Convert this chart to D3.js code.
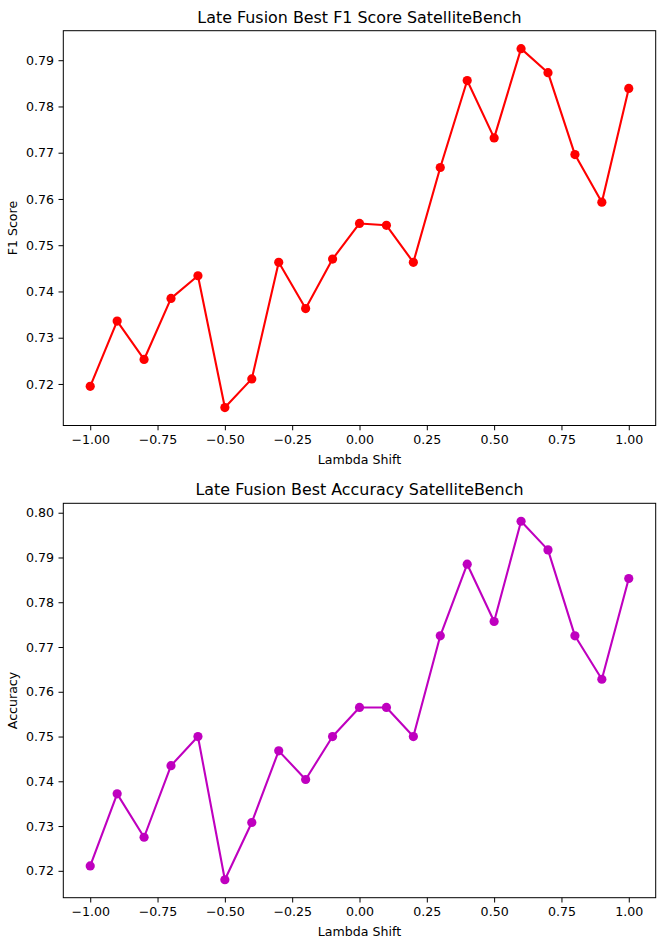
<!DOCTYPE html>
<html><head><meta charset="utf-8">
<script src="https://cdn.jsdelivr.net/npm/d3@7"></script>
<style>body{margin:0;background:#fff}svg{display:block;font-family:"DejaVu Sans",sans-serif}</style>
</head><body>
<svg id="c" width="665" height="941"></svg>
<script>
const lambdaShift = [-1.0,-0.9,-0.8,-0.7,-0.6,-0.5,-0.4,-0.3,-0.2,-0.1,0.0,0.1,0.2,0.3,0.4,0.5,0.6,0.7,0.8,0.9,1.0];
const f1Score = [0.7195,0.7336,0.7253,0.7385,0.7434,0.7149,0.7211,0.7463,0.7363,0.7470,0.7547,0.7543,0.7463,0.7668,0.7856,0.7732,0.7925,0.7873,0.7696,0.7593,0.7839];
const accuracy = [0.7211,0.7372,0.7275,0.7435,0.7500,0.7180,0.7308,0.7468,0.7404,0.7500,0.7565,0.7565,0.7500,0.7725,0.7885,0.7757,0.7981,0.7917,0.7725,0.7628,0.7853];
const xTicks = [-1.0,-0.75,-0.5,-0.25,0.0,0.25,0.5,0.75,1.0];
const f1Ticks = [0.72,0.73,0.74,0.75,0.76,0.77,0.78,0.79];
const accTicks = [0.72,0.73,0.74,0.75,0.76,0.77,0.78,0.79,0.80];

const svg = d3.select("#c");
const L = 63.3, R = 655.7;

function panel(cfg){
  const {top,bottom,values,ticks,color,title,ylabel} = cfg;
  const ext = d3.extent(values), m = (ext[1]-ext[0])*0.05;
  const x = d3.scaleLinear().domain([-1.1,1.1]).range([L,R]);
  const y = d3.scaleLinear().domain([ext[0]-m, ext[1]+m]).range([bottom,top]);
  const g = svg.append("g");
  const xa = g.append("g").attr("transform",`translate(0,${bottom})`)
    .call(d3.axisBottom(x).tickValues(xTicks).tickFormat(d3.format(".2f")).tickSize(4.8).tickPadding(4.5));
  const ya = g.append("g").attr("transform",`translate(${L},0)`)
    .call(d3.axisLeft(y).tickValues(ticks).tickFormat(d3.format(".2f")).tickSize(4.8).tickPadding(4.5));
  [xa,ya].forEach(a=>{
    a.select(".domain").remove();
    a.selectAll("line").attr("stroke","#000").attr("stroke-width",1);
    a.selectAll("text").attr("font-size",12.6).attr("fill","#000")
      .attr("font-family","DejaVu Sans").text(function(){return this.textContent.replace("-","\u2212");});
  });
  g.append("rect").attr("x",L).attr("y",top).attr("width",R-L).attr("height",bottom-top)
    .attr("fill","none").attr("stroke","#000").attr("stroke-width",1);
  const line = d3.line().x((d,i)=>x(lambdaShift[i])).y(d=>y(d));
  g.append("path").datum(values).attr("d",line).attr("fill","none")
    .attr("stroke",color).attr("stroke-width",2.1).attr("stroke-linejoin","round");
  g.selectAll("circle.p").data(values).join("circle").attr("class","p")
    .attr("cx",(d,i)=>x(lambdaShift[i])).attr("cy",d=>y(d)).attr("r",4.6).attr("fill",color);
  g.append("text").attr("x",(L+R)/2).attr("y",top-8).attr("text-anchor","middle")
    .attr("font-size",15.9).attr("fill","#000").text(title);
  g.append("text").attr("x",(L+R)/2).attr("y",bottom+38).attr("text-anchor","middle")
    .attr("font-size",12.6).attr("fill","#000").text("Lambda Shift");
  g.append("text").attr("transform",`translate(17,${(top+bottom)/2}) rotate(-90)`)
    .attr("text-anchor","middle").attr("font-size",12.6).attr("fill","#000").text(ylabel);
}
panel({top:30.7,bottom:425.5,values:f1Score,ticks:f1Ticks,color:"#ff0000",
  title:"Late Fusion Best F1 Score SatelliteBench",ylabel:"F1 Score"});
panel({top:503.3,bottom:897.7,values:accuracy,ticks:accTicks,color:"#bf00bf",
  title:"Late Fusion Best Accuracy SatelliteBench",ylabel:"Accuracy"});
</script>
</body></html>
